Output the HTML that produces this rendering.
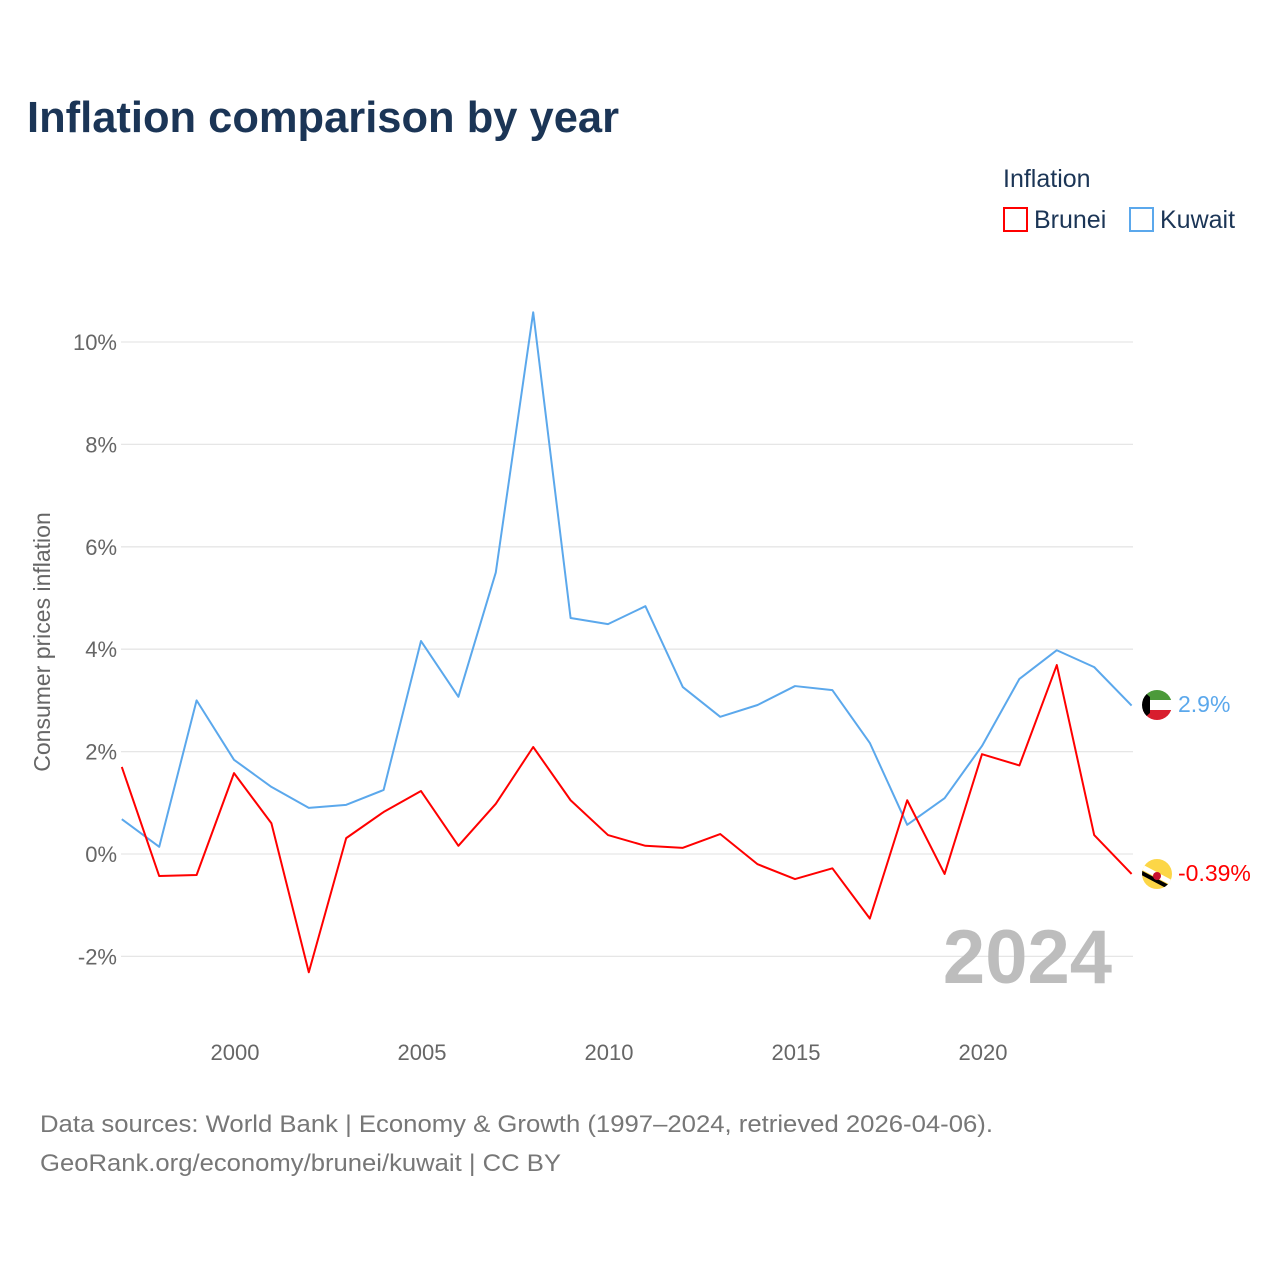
<!DOCTYPE html>
<html><head><meta charset="utf-8"><style>
body{margin:0;background:#fff;font-family:"Liberation Sans",sans-serif;}
svg text{font-family:"Liberation Sans",sans-serif;}
</style></head><body>
<svg id="chart" width="1280" height="1280" xmlns="http://www.w3.org/2000/svg">
<text x="27" y="132" font-size="44" font-weight="bold" fill="#1b3556" textLength="592" lengthAdjust="spacingAndGlyphs">Inflation comparison by year</text>
<text x="1003" y="187" font-size="25" fill="#1b3556">Inflation</text>
<g><rect x="1004" y="208" width="23" height="23" fill="none" stroke="#ff0000" stroke-width="2"/><text x="1034" y="228" font-size="25" fill="#1b3556">Brunei</text></g>
<g><rect x="1130" y="208" width="23" height="23" fill="none" stroke="#5ba8ec" stroke-width="2"/><text x="1160" y="228" font-size="25" fill="#1b3556">Kuwait</text></g>
<text transform="translate(50,642) rotate(-90)" text-anchor="middle" font-size="23" fill="#666">Consumer prices inflation</text>
<g id="grid"></g><g id="xt"></g>
<text x="1112" y="983" text-anchor="end" font-size="76" font-weight="bold" fill="#bdbdbd">2024</text>
<g id="series"></g>
<g>
<clipPath id="ck"><circle cx="1157" cy="705" r="15"/></clipPath>
<g clip-path="url(#ck)"><rect x="1142" y="690" width="30" height="10" fill="#4c9a3a"/><rect x="1142" y="700" width="30" height="10" fill="#fff"/><rect x="1142" y="710" width="30" height="10" fill="#d81e2e"/><polygon points="1142,690 1150,697 1150,713 1142,720" fill="#000"/></g></g>
<g>
<clipPath id="cb"><circle cx="1157" cy="874" r="15"/></clipPath>
<g clip-path="url(#cb)"><rect x="1142" y="859" width="30" height="30" fill="#fcd647"/><line x1="1140" y1="866" x2="1174" y2="884" stroke="#fff" stroke-width="5"/><line x1="1140" y1="872" x2="1174" y2="890" stroke="#000" stroke-width="4"/><circle cx="1157" cy="876" r="4" fill="#c8102e"/></g></g>
<text x="1178" y="712" font-size="23" fill="#5ba8ec">2.9%</text>
<text x="1178" y="881" font-size="23" fill="#ff0000">-0.39%</text>
<text x="40" y="1132" font-size="24" fill="#777" textLength="953" lengthAdjust="spacingAndGlyphs">Data sources: World Bank | Economy &amp; Growth (1997–2024, retrieved 2026-04-06).</text>
<text x="40" y="1171" font-size="24" fill="#777" textLength="521" lengthAdjust="spacingAndGlyphs">GeoRank.org/economy/brunei/kuwait | CC BY</text>
</svg>
<script>
const years=[1997,1998,1999,2000,2001,2002,2003,2004,2005,2006,2007,2008,2009,2010,2011,2012,2013,2014,2015,2016,2017,2018,2019,2020,2021,2022,2023,2024];
const kuwait=[0.68,0.14,3.0,1.84,1.31,0.9,0.96,1.25,4.16,3.07,5.5,10.58,4.61,4.49,4.84,3.26,2.68,2.91,3.28,3.2,2.17,0.57,1.09,2.11,3.42,3.98,3.65,2.9];
const brunei=[1.7,-0.43,-0.41,1.58,0.6,-2.31,0.31,0.82,1.23,0.16,0.98,2.09,1.05,0.37,0.16,0.12,0.39,-0.2,-0.49,-0.28,-1.26,1.05,-0.39,1.95,1.73,3.69,0.37,-0.39];
const yTicks=[-2,0,2,4,6,8,10];
const yTickLabels=["-2%","0%","2%","4%","6%","8%","10%"];
const xTicks=[2000,2005,2010,2015,2020];
const NS="http://www.w3.org/2000/svg";
const X=v=>121.8+(v-1997)*37.4;
const Y=v=>854-v*51.2;
const grid=document.getElementById('grid'),xt=document.getElementById('xt'),ser=document.getElementById('series');
yTicks.forEach((t,i)=>{
 const l=document.createElementNS(NS,'line');
 
 
 l.setAttribute('x1',121);l.setAttribute('x2',1133);l.setAttribute('y1',Y(t));l.setAttribute('y2',Y(t));
 l.setAttribute('stroke','#e6e6e6');l.setAttribute('stroke-width','1.3');grid.appendChild(l);
 const tx=document.createElementNS(NS,'text');
 
 
 tx.setAttribute('x',117);tx.setAttribute('y',Y(t)+8);tx.setAttribute('text-anchor','end');
 tx.setAttribute('font-size','22');tx.setAttribute('fill','#666');tx.textContent=yTickLabels[i];grid.appendChild(tx);
});
xTicks.forEach(t=>{
 const tx=document.createElementNS(NS,'text');
 
 
 tx.setAttribute('x',X(t)+1);tx.setAttribute('y',1060);tx.setAttribute('text-anchor','middle');
 tx.setAttribute('font-size','22');tx.setAttribute('fill','#666');tx.textContent=t;xt.appendChild(tx);
});
function line(vals,color,name){
 const p=document.createElementNS(NS,'polyline');
 
 
 p.setAttribute('points',vals.map((v,i)=>X(years[i])+','+Y(v)).join(' '));
 p.setAttribute('fill','none');p.setAttribute('stroke',color);p.setAttribute('stroke-width','2');
 p.setAttribute('stroke-linejoin','round');ser.appendChild(p);
}
line(kuwait,'#5ba8ec','kuwait-line');
line(brunei,'#ff0000','brunei-line');
</script>
</body></html>
